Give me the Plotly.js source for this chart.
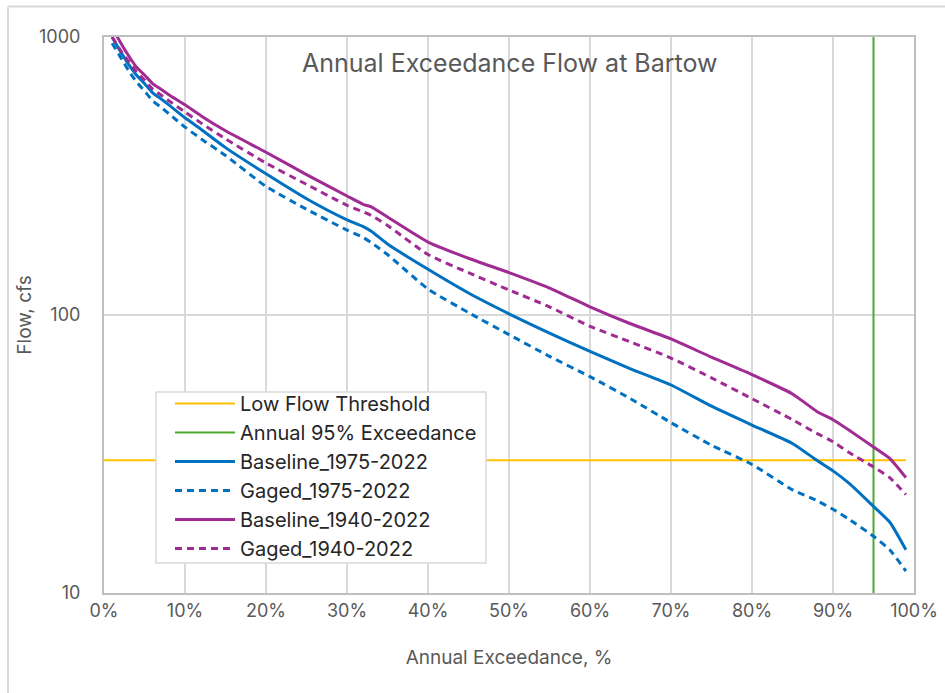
<!DOCTYPE html>
<html>
<head>
<meta charset="utf-8">
<script src="https://cdn.plot.ly/plotly-3.0.1.min.js"></script>
<style>html,body{margin:0;padding:0;background:#fff;}#chart{width:945px;height:693px;}</style>
</head>
<body>
<div id="chart"></div>
<script>
// Exceedance percentages (%)
const exceedPct = [1,2,3,4,5,6,7,8,10,12,15,20,25,30,32,33,35,40,45,50,55,60,65,70,75,80,85,88,90,92,95,97,99];

// Flow values, cfs
const baseline1975 = [1000,890,800,730,680,630,600,570,512,465,400,322,262,220,208,200,180,146,120,101,86,74,64,56,47,40.2,34.5,30,27.5,24.8,20.5,18,14.3];
const gaged1975    = [950,850,760,690,640,590,560,530,474,430,375,290,240,202,190,182,165,124,102,85,71,60,50,41,34,29,23.5,21.5,20,18.4,16,14.3,12];
const baseline1940 = [1080,960,860,780,730,680,650,620,570,520,460,385,320,268,250,245,225,183,160,142,125,107,93,82,70.5,61,52,45,42,38.5,33.5,30.5,26];
const gaged1940    = [1000,900,820,750,700,650,620,590,537,490,430,352,295,248,235,228,210,165,142,123,107,91,80,70,59.4,50,42,37.5,35,32,28.4,26,22.6];

// Reference lines
const thresholdX = [0, 99];
const thresholdY = [30, 30];
const exceed95X = [95, 95];
const exceed95Y = [10, 1000];

const seriesNames = ["Low Flow Threshold","Annual 95% Exceedance","Baseline_1975-2022","Gaged_1975-2022","Baseline_1940-2022","Gaged_1940-2022"];
const xTicks = [0,10,20,30,40,50,60,70,80,90,100];
const xTickText = ["0%","10%","20%","30%","40%","50%","60%","70%","80%","90%","100%"];
const yTicks = [10, 100, 1000];
const yTickText = ["10","100","1000"];

const FONT = "Inter, 'Noto Sans', sans-serif";
const BLUE = "#0070C0", PURPLE = "#A02B93";

const traces = [
  {x: thresholdX, y: thresholdY, name: seriesNames[0], mode: "lines", line: {color: "#FFC000", width: 2}},
  {x: exceed95X, y: exceed95Y, name: seriesNames[1], mode: "lines", line: {color: "#4EA72E", width: 2}},
  {x: exceedPct, y: baseline1975, name: seriesNames[2], mode: "lines", line: {color: BLUE, width: 3, shape: "spline", smoothing: 0.5}},
  {x: exceedPct, y: gaged1975, name: seriesNames[3], mode: "lines", line: {color: BLUE, width: 3, dash: "7px,5px", shape: "spline", smoothing: 0.5}},
  {x: exceedPct, y: baseline1940, name: seriesNames[4], mode: "lines", line: {color: PURPLE, width: 3, shape: "spline", smoothing: 0.5}},
  {x: exceedPct, y: gaged1940, name: seriesNames[5], mode: "lines", line: {color: PURPLE, width: 3, dash: "7px,5px", shape: "spline", smoothing: 0.5}}
];

const layout = {
  width: 945, height: 693,
  margin: {l: 104, r: 31, t: 37, b: 100},
  paper_bgcolor: "#fff", plot_bgcolor: "#fff",
  font: {family: FONT, color: "#595959", size: 18},
  showlegend: true,
  legend: {
    x: 0.0815, y: 0.376, xanchor: "left", yanchor: "top",
    bgcolor: "rgba(0,0,0,0)", borderwidth: 0,
    font: {family: FONT, size: 20, color: "#262626"},
    tracegroupgap: 0, itemwidth: 60,
    traceorder: "normal"
  },
  xaxis: {
    range: [0, 100], tickvals: xTicks, ticktext: xTickText,
    showgrid: true, gridcolor: "#d9d9d9", gridwidth: 2,
    showline: true, linecolor: "#bfbfbf", linewidth: 2, mirror: true,
    ticks: "", zeroline: false,
    tickfont: {family: FONT, size: 18, color: "#595959"},
    title: {text: "Annual Exceedance, %", font: {family: FONT, size: 19, color: "#595959"}, standoff: 31}
  },
  yaxis: {
    type: "log", range: [1, 3], tickvals: yTicks, ticktext: yTickText,
    showgrid: true, gridcolor: "#d9d9d9", gridwidth: 2,
    showline: true, linecolor: "#bfbfbf", linewidth: 2, mirror: true,
    ticks: "", zeroline: false, ticklabelstandoff: 18,
    tickfont: {family: FONT, size: 18, color: "#595959"},
    title: {text: "Flow, cfs", font: {family: FONT, size: 19, color: "#595959"}, standoff: 2}
  },
  annotations: [{
    text: "Annual Exceedance Flow at Bartow", xref: "paper", yref: "paper",
    x: 0.5, y: 0.953, xanchor: "center", yanchor: "middle", showarrow: false,
    font: {family: FONT, size: 25, color: "#595959"}
  }],
  shapes: [
    {type: "line", xref: "paper", yref: "paper", x0: -0.1185, x1: 1.05, y0: 1.0548, y1: 1.0548, line: {color: "#d9d9d9", width: 2}},
    {type: "line", xref: "paper", yref: "paper", x0: -0.1185, x1: -0.1185, y0: 1.0548, y1: -0.2, line: {color: "#d9d9d9", width: 2}},
    {type: "rect", xref: "paper", yref: "paper", layer: "above", x0: 0.0642, x1: 0.4716, y0: 0.054, y1: 0.3615,
     fillcolor: "#ffffff", line: {color: "#d9d9d9", width: 1.5}}
  ]
};

Plotly.newPlot("chart", traces, layout, {staticPlot: true, displayModeBar: false});
</script>
</body>
</html>
